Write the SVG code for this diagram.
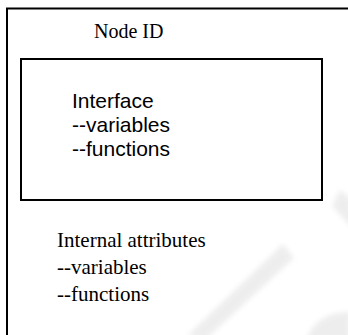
<svg xmlns="http://www.w3.org/2000/svg" width="348" height="335" viewBox="0 0 348 335">
  <style>
    .frame { fill: none; stroke: #000; stroke-width: 2; }
    .serif { font-family: "Liberation Serif", "Times New Roman", serif; fill: #000; }
    .sans { font-family: "Liberation Sans", Arial, sans-serif; fill: #000; }
    .mark { fill: #e8e8e8; }
  </style>
  <defs>
    <filter id="soft" x="-20%" y="-20%" width="140%" height="140%">
      <feGaussianBlur stdDeviation="2.5"/>
    </filter>
  </defs>
  <rect width="348" height="335" fill="#fff"/>

  <!-- faint background mark -->
  <g id="backdrop" filter="url(#soft)" opacity="0.75">
    <polygon class="mark" points="283,244 294,258 205,340 188,335"/>
    <polygon class="mark" points="340,190 352,200 352,228 332,206"/>
    <path class="mark" d="M306,340 Q316,312 350,312 L350,340 Z"/>
  </g>

  <!-- outer node: runs past the right and bottom edges -->
  <g id="node">
    <path class="frame" d="M7,340 V8.5 H352"/>
    <text class="serif" x="94" y="37.5" font-size="20">Node ID</text>

    <g id="interface">
      <rect class="frame" x="21" y="59" width="301" height="141"/>
      <text class="sans" font-size="21">
        <tspan x="72" y="107.5">Interface</tspan>
        <tspan x="72" y="131.5">--variables</tspan>
        <tspan x="72" y="155.5">--functions</tspan>
      </text>
    </g>

    <g id="internal">
      <text class="serif" font-size="21">
        <tspan x="57" y="246.5">Internal attributes</tspan>
        <tspan x="57" y="274">--variables</tspan>
        <tspan x="57" y="301">--functions</tspan>
      </text>
    </g>
  </g>
</svg>
